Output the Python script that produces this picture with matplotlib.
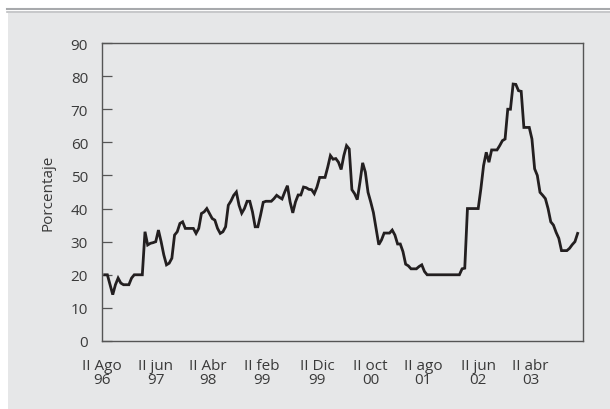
import numpy as np
import matplotlib.pyplot as plt
from matplotlib.patches import Rectangle
from matplotlib.lines import Line2D

# semi-monthly series, II Ago 96 onwards (percent)
pct = [20, 20, 17, 14, 17, 19, 17.5, 17, 17, 17,
       19, 20, 20, 20, 20, 33, 29, 29.5, 29.7, 30,
       33.5, 30, 26, 23, 23.5, 25, 32, 33, 35.5, 36,
       34, 34, 34, 34, 32.5, 34, 38.5, 39, 40, 38.5,
       37, 36.5, 34, 32.5, 33, 34.5, 41, 42.3, 44, 45,
       41, 38.6, 40, 42.2, 42.2, 39, 34.5, 34.5, 38, 41.9,
       42.2, 42.2, 42.2, 43, 44, 43.4, 42.9, 45, 46.9, 42,
       38.7, 42, 44.1, 44.1, 46.5, 46.3, 45.8, 45.7, 44.5, 46.5,
       49.4, 49.4, 49.4, 52.5, 56, 54.9, 55.1, 54, 51.8, 56,
       59, 58, 45.7, 44.5, 42.7, 48, 53.8, 51, 44.9, 42,
       38.8, 34, 29.1, 30.5, 32.6, 32.6, 32.6, 33.5, 32, 29.3,
       29.3, 27, 23.2, 22.7, 21.8, 21.8, 21.8, 22.5, 23, 21,
       20, 20, 20, 20, 20, 20, 20, 20, 20, 20,
       20, 20, 20, 21.8, 22, 40, 40, 40, 40, 40,
       46, 53, 57, 54, 57.7, 57.7, 57.7, 59, 60.5, 61,
       70, 70, 77.6, 77.5, 75.6, 75.4, 64.5, 64.5, 64.5, 61,
       52, 50, 44.9, 44, 43, 40, 36, 35, 32.8, 31,
       27.3, 27.3, 27.3, 28, 29.1, 30, 32.5]

tick_pos = [-1, 19, 38.5, 58.5, 79, 99, 118.5, 139, 158.5]
tick_lab = ['II Ago\n96', 'II jun\n97', 'II Abr\n98', 'II feb\n99', 'II Dic\n99',
            'II oct\n00', 'II ago\n01', 'II jun\n02', 'II abr\n03']

plt.rcParams['font.family'] = ['Open Sans', 'DejaVu Sans']
bg = '#e6e7e8'
txt = '#3a3a3a'

fig = plt.figure(figsize=(6.1, 4.1), dpi=100)
fig.patch.set_facecolor('white')
W, H = 610, 410
fig.patches.append(Rectangle((8 / W, 0), 1, 1 - 14 / H, transform=fig.transFigure,
                             facecolor=bg, edgecolor='none', zorder=-5))
fig.lines.append(Line2D([7 / W, 1], [1 - 9.5 / H] * 2, transform=fig.transFigure,
                        color='#a7a9ac', lw=1.5, zorder=-4))
fig.lines.append(Line2D([7 / W, 1], [1 - 12.5 / H] * 2, transform=fig.transFigure,
                        color='#bcbec0', lw=1.2, zorder=-4))

ax = fig.add_axes([102 / W, 1 - 342 / H, (583 - 102) / W, (342 - 44) / H])
ax.set_facecolor(bg)
x = np.arange(len(pct))
ax.plot(x, pct, color='#231f20', lw=2.0, solid_joinstyle='miter')

ax.set_xlim(-0.1, 178)
ax.set_ylim(0, 90)
ax.set_yticks(range(0, 91, 10))
ax.set_xticks(tick_pos)
ax.set_xticklabels(tick_lab, linespacing=0.95)
ax.tick_params(axis='y', direction='in', length=7, width=0.9, pad=10,
               labelsize=11, colors=txt, color='#555555')
ax.tick_params(axis='x', length=0, pad=12, labelsize=11, colors=txt)
for s in ax.spines.values():
    s.set_color('#555555')
    s.set_linewidth(1.0)
ax.set_ylabel('Porcentaje', fontsize=11, color=txt, labelpad=11)

fig.savefig('out.png', dpi=100, facecolor=fig.get_facecolor())
